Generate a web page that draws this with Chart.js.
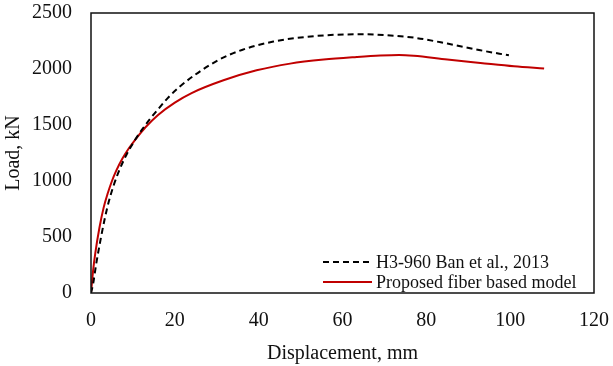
<!DOCTYPE html>
<html>
<head>
<meta charset="utf-8">
<script src="https://cdn.jsdelivr.net/npm/chart.js@4/dist/chart.umd.min.js"></script>
<style>
  html, body { margin: 0; padding: 0; background: #fff; }
  #wrap { width: 613px; height: 366px; }
</style>
</head>
<body>
<div id="wrap"><canvas id="chart" width="613" height="366"></canvas></div>
<script>
// test curve (Ban et al.)
const dispTest = [0, 0.5, 1.2, 2.4, 3.2, 4.2, 5.4, 6.8, 8.4, 10.4, 12.0, 14.0, 16.0, 18.3, 21.1, 24.9, 30.4, 36.0, 43.5, 51.0, 58.0, 65.0, 70.0, 77.0, 85.0, 92.9, 99.7];
const loadTest = [0, 80, 250, 500, 650, 810, 960, 1100, 1230, 1360, 1450, 1550, 1640, 1740, 1840, 1950, 2080, 2170, 2245, 2285, 2305, 2310, 2303, 2280, 2227, 2167, 2122];

// fiber model curve
const dispModel = [0, 0.5, 1.0, 2.0, 3.0, 4.0, 5.0, 6.0, 7.5, 9.0, 11.0, 13.0, 16.0, 20.0, 24.0, 31.6, 39.5, 47.5, 55.5, 63.4, 69.0, 73.5, 77.0, 85.0, 92.9, 100.9, 108.1];
const loadModel = [0, 200, 350, 580, 760, 890, 1000, 1090, 1200, 1290, 1390, 1480, 1590, 1700, 1785, 1899, 1988, 2048, 2084, 2107, 2120, 2125, 2118, 2084, 2054, 2024, 2004];

const seriesNames = ["H3-960 Ban et al., 2013", "Proposed fiber based model"];
const xTicks = [0, 20, 40, 60, 80, 100, 120];
const yTicks = [0, 500, 1000, 1500, 2000, 2500];

const serif = "'Liberation Serif', 'Times New Roman', serif";

function toPoints(xs, ys) {
  return xs.map((x, i) => ({ x: x, y: ys[i] }));
}

// frame around the plot area
const framePlugin = {
  id: 'frame',
  afterDraw(chart) {
    const { ctx, chartArea: a } = chart;
    ctx.save();
    ctx.strokeStyle = '#111';
    ctx.lineWidth = 1.5;
    ctx.strokeRect(a.left, a.top, a.right - a.left, a.bottom - a.top);
    ctx.restore();
  }
};

// legend drawn inside the plot, bottom right
const insideLegend = {
  id: 'insideLegend',
  afterDraw(chart) {
    const ctx = chart.ctx;
    ctx.save();
    ctx.font = '18px ' + serif;
    ctx.textBaseline = 'middle';
    chart.data.datasets.forEach((ds, i) => {
      const y = 262 + i * 20;
      ctx.beginPath();
      ctx.setLineDash(ds.borderDash || []);
      ctx.strokeStyle = ds.borderColor;
      ctx.lineWidth = ds.borderWidth;
      ctx.moveTo(323, y);
      ctx.lineTo(372, y);
      ctx.stroke();
      ctx.setLineDash([]);
      ctx.fillStyle = '#111';
      ctx.fillText(ds.label, 376, y + 1);
    });
    ctx.restore();
  }
};

new Chart(document.getElementById('chart'), {
  type: 'line',
  data: {
    datasets: [
      {
        label: seriesNames[0],
        data: toPoints(dispTest, loadTest),
        borderColor: '#000',
        borderWidth: 2,
        borderDash: [6, 4],
        pointRadius: 0,
        cubicInterpolationMode: 'monotone',
        fill: false
      },
      {
        label: seriesNames[1],
        data: toPoints(dispModel, loadModel),
        borderColor: '#c00000',
        borderWidth: 2,
        pointRadius: 0,
        cubicInterpolationMode: 'monotone',
        fill: false
      }
    ]
  },
  options: {
    responsive: false,
    animation: false,
    layout: { padding: { top: 13, right: 19, left: 0, bottom: 0 } },
    plugins: { legend: { display: false }, tooltip: { enabled: false } },
    scales: {
      x: {
        type: 'linear',
        min: 0, max: 120,
        afterBuildTicks: s => { s.ticks = xTicks.map(v => ({ value: v })); },
        afterFit: s => { s.height = 73; s.paddingLeft = 0; s.paddingRight = 0; },
        grid: { display: false, drawTicks: false },
        border: { display: false },
        ticks: { color: '#111', padding: 16, maxRotation: 0, callback: v => String(v), font: { family: serif, size: 20 } },
        title: { display: true, text: 'Displacement, mm', color: '#111', padding: { top: 2, bottom: 0 }, font: { family: serif, size: 20 } }
      },
      y: {
        min: 0, max: 2500,
        afterBuildTicks: s => { s.ticks = yTicks.map(v => ({ value: v })); },
        afterFit: s => { s.width = 91; s.paddingTop = 0; s.paddingBottom = 0; },
        grid: { display: false, drawTicks: false },
        border: { display: false },
        ticks: { color: '#111', padding: 19, callback: v => String(v), font: { family: serif, size: 20 } },
        title: { display: true, text: 'Load, kN', color: '#111', padding: { top: 2, bottom: 2 }, font: { family: serif, size: 20 } }
      }
    }
  },
  plugins: [framePlugin, insideLegend]
});
</script>
</body>
</html>
